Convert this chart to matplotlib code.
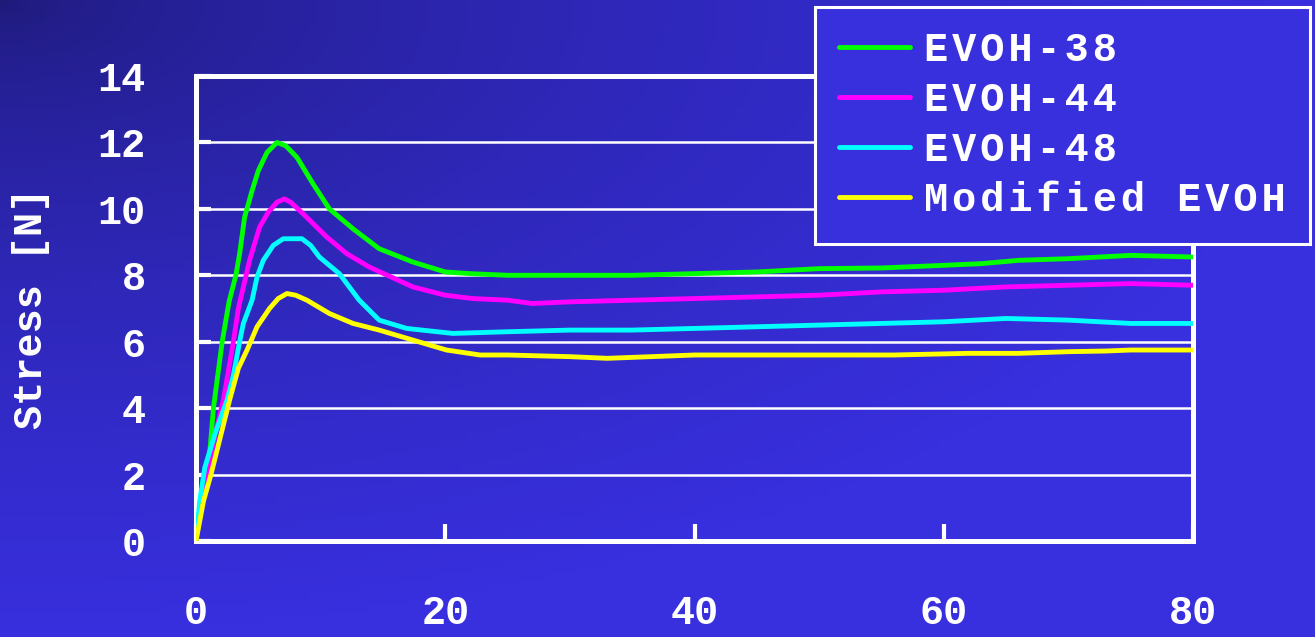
import numpy as np
import matplotlib
matplotlib.use('Agg')
import matplotlib.pyplot as plt
from matplotlib import font_manager as fm
from matplotlib.ft2font import FT2Font

# ---------------- data ----------------
series_names = ['EVOH-38', 'EVOH-44', 'EVOH-48', 'Modified EVOH']
series_colors = ['#00ff00', '#ff00ff', '#00ffff', '#ffff00']

x_evoh38 = [0, 0.3, 0.6, 1.0, 1.4, 2.1, 2.65, 3.2, 3.5, 3.9, 4.5, 5.0, 5.7, 6.5, 7.2, 8.1, 9.4,
            10.7, 12.6, 14.7, 17.4, 20, 22, 25, 30, 35, 40, 45, 50, 55, 60, 63, 66, 70, 75, 80]
y_evoh38 = [0, 0.8, 1.5, 2.2, 4.0, 6.0, 7.2, 8.0, 8.65, 9.75, 10.55, 11.15, 11.7, 12.0, 11.9, 11.55, 10.75,
            10.0, 9.4, 8.8, 8.4, 8.1, 8.05, 8.0, 8.0, 8.0, 8.05, 8.1, 8.2, 8.22, 8.3, 8.35, 8.45, 8.5, 8.6, 8.55]

x_evoh44 = [0, 0.3, 0.7, 1.0, 1.6, 2.2, 3.0, 3.4, 4.3, 5.1, 5.8, 6.5, 7.1, 7.6, 8.6, 10.5, 12.1,
            13.9, 17.4, 20, 22.2, 25, 27, 30, 35, 40, 45, 50, 55, 60, 65, 70, 75, 80]
y_evoh44 = [0, 0.9, 1.6, 2.2, 3.3, 4.25, 6.0, 7.0, 8.45, 9.45, 9.9, 10.2, 10.3, 10.2, 9.85, 9.15, 8.65,
            8.25, 7.65, 7.4, 7.3, 7.25, 7.15, 7.2, 7.25, 7.3, 7.35, 7.4, 7.5, 7.55, 7.65, 7.7, 7.75, 7.7]

x_evoh48 = [0, 0.3, 0.7, 1.5, 2.5, 3.0, 3.5, 3.8, 4.5, 4.9, 5.4, 6.2, 7.0, 8.5, 9.2, 9.9, 11.5,
            13.1, 14.7, 16.9, 20.6, 25, 30, 35, 40, 45, 50, 55, 60, 65, 70, 75, 80]
y_evoh48 = [0, 1.2, 2.2, 3.2, 4.25, 5.0, 6.0, 6.55, 7.25, 7.95, 8.45, 8.9, 9.1, 9.1, 8.9, 8.55, 8.05,
            7.25, 6.65, 6.4, 6.25, 6.3, 6.35, 6.35, 6.4, 6.45, 6.5, 6.55, 6.6, 6.7, 6.65, 6.55, 6.55]

x_modified = [0, 0.6, 1.2, 1.7, 2.2, 2.7, 3.4, 4.1, 4.9, 5.9, 6.6, 7.3, 8.0, 8.9, 10.7, 12.6, 14.7,
              17.4, 20.1, 22.8, 25, 30, 33, 40, 45, 50, 56, 62, 66, 70, 73, 75, 80]
y_modified = [0, 1.2, 2.0, 2.75, 3.5, 4.25, 5.2, 5.75, 6.45, 7.0, 7.3, 7.45, 7.4, 7.25, 6.85, 6.55, 6.35,
              6.05, 5.75, 5.6, 5.6, 5.55, 5.5, 5.6, 5.6, 5.6, 5.6, 5.65, 5.65, 5.7, 5.72, 5.75, 5.75]

x_ticks = [0, 20, 40, 60, 80]
y_ticks = [0, 2, 4, 6, 8, 10, 12, 14]
y_label = 'Stress [N]'

series_x = [x_evoh38, x_evoh44, x_evoh48, x_modified]
series_y = [y_evoh38, y_evoh44, y_evoh48, y_modified]

# ---------------- style ----------------
FONT = ['Liberation Mono', 'DejaVu Sans']
TICK_FS = 29
LEG_FS = 29
W, H, DPI = 1315, 637, 100


def pick_spacer(target_px, size_pt):
    """Pick a narrow space glyph missing from Liberation Mono (so it falls back)."""
    try:
        mono_path = fm.findfont(fm.FontProperties(family='Liberation Mono', weight='bold'),
                                fallback_to_default=False)
        dv_path = fm.findfont(fm.FontProperties(family='DejaVu Sans', weight='bold'))
        fmono = FT2Font(mono_path)
        fdv = FT2Font(dv_path)
        fdv.set_size(size_pt, DPI)
        best, best_err = '', None
        for code in [0x2002, 0x2004, 0x2005, 0x2006, 0x2008, 0x2009, 0x200A, 0x202F, 0x205F]:
            if fmono.get_char_index(code) == 0 and fdv.get_char_index(code) != 0:
                g = fdv.load_char(code)
                w = g.horiAdvance / 64.0
                err = abs(w - target_px)
                if best_err is None or err < best_err:
                    best, best_err = chr(code), err
        return best
    except Exception:
        return ''


fig = plt.figure(figsize=(W / DPI, H / DPI), dpi=DPI)

# gradient background
bg = fig.add_axes([0, 0, 1, 1], zorder=-10)
gx, gy = np.meshgrid(np.linspace(0, 1, 200), np.linspace(0, 1, 100))
t = np.clip(np.sqrt(gx ** 2 + gy ** 2), 0, 1) ** 0.6
c0 = np.array([30, 26, 120]) / 255.0
c1 = np.array([56, 47, 222]) / 255.0
img = c0[None, None, :] * (1 - t[..., None]) + c1[None, None, :] * t[..., None]
bg.imshow(img, aspect='auto', extent=[0, 1, 0, 1], origin='upper')
bg.axis('off')

ax = fig.add_axes([196 / W, 1 - 541 / H, (1193 - 196) / W, (541 - 76) / H])
ax.set_facecolor('none')

for xs, ys, c, name in zip(series_x, series_y, series_colors, series_names):
    ax.plot(xs, ys, color=c, lw=3.5, label=name, zorder=3, solid_joinstyle='round')

ax.set_xlim(0, 80)
ax.set_ylim(0, 14)
ax.set_xticks(x_ticks)
ax.set_yticks(y_ticks)
ax.set_xticklabels([str(v) for v in x_ticks])
ax.set_yticklabels([str(v) for v in y_ticks])

for lab in ax.get_xticklabels() + ax.get_yticklabels():
    lab.set_family(FONT)
    lab.set_fontweight('bold')
    lab.set_fontsize(TICK_FS)
    lab.set_color('white')

ax.tick_params(axis='x', direction='in', length=12, width=3, color='white', pad=38)
ax.tick_params(axis='y', direction='in', length=11, width=3, color='white', pad=36)

ax.yaxis.grid(True, color='white', lw=1.8, zorder=1)
ax.xaxis.grid(False)
ax.set_axisbelow(True)
for sp in ax.spines.values():
    sp.set_color('white')
    sp.set_linewidth(3.6)

ax.set_ylabel(y_label, family=FONT, fontweight='bold', fontsize=TICK_FS, color='white', va='center')
ax.yaxis.set_label_coords(-0.1655, 0.5)

spacer = pick_spacer(10.0, LEG_FS)
handles, labels = ax.get_legend_handles_labels()
leg_labels = [spacer.join(list(lbl)) for lbl in labels]
leg = ax.legend(handles, leg_labels, loc='upper left',
                bbox_to_anchor=(815 / W, 1 - 7 / H), bbox_transform=fig.transFigure,
                borderaxespad=0, fancybox=False, framealpha=1, facecolor='#382fdd',
                edgecolor='white', prop={'family': FONT, 'weight': 'bold', 'size': LEG_FS},
                handlelength=1.75, handletextpad=0.35, labelspacing=0.3, borderpad=0.6)
leg.get_frame().set_linewidth(2.2)
for txt in leg.get_texts():
    txt.set_color('white')
for ln in leg.get_lines():
    ln.set_linewidth(3.5)
    ln.set_solid_capstyle('round')
leg.set_zorder(10)

fig.savefig('out.png', dpi=DPI)
